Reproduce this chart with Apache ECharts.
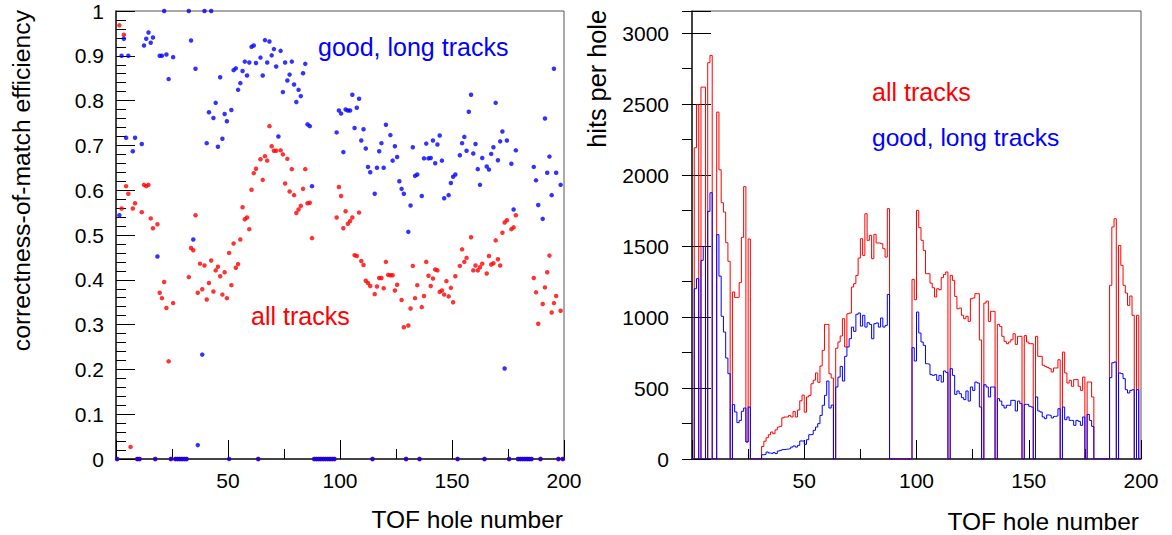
<!DOCTYPE html>
<html>
<head>
<meta charset="utf-8">
<script src="https://cdn.jsdelivr.net/npm/echarts@6/dist/echarts.min.js"></script>
<style>
html,body{margin:0;padding:0;background:#fff;}
#chart{width:1172px;height:535px;}
</style>
</head>
<body>
<div id="chart"></div>
<script>
// Efficiency per TOF hole (index 0..199 -> hole bin [i, i+1]); null = no point
var effAll = [
0,0.968,0.559,0.947,0.609,0.592,0.027,0.559,0.571,0,
0,0.551,0.612,0.609,0.612,0.537,0.515,0,0.524,0.371,
0.359,0.395,0.337,0.218,0,0.348,0,0,0,0,
0,0,0.406,0.471,0.466,0.544,0.371,0.436,0.379,0.432,
0.356,0.393,0.443,0.374,0.421,0.429,0.408,0.367,0.417,0.359,
0.46,0.388,0.481,0.427,0.435,0.49,0.562,0.535,0.539,0.513,
0.601,0.638,0.648,0,0.669,0.623,0.676,0.666,0.743,0.698,
0.688,0.688,null,0.689,0.68,0.615,0.67,0.597,0.647,0.589,
0.549,0.557,0.565,0.603,0.647,0.571,0.572,0.493,0,0,
0,0,0,0,0,0,0,0,0.539,0.607,
0.587,0.515,0.553,0.525,0.531,0.539,0.455,0.453,0.55,0.442,
0.433,0.398,0.393,0.386,0,0.368,0.385,0.404,0.404,0.381,
0.44,0.411,0.41,0.41,0.376,0.389,null,0.355,0.294,0,
0.298,0.336,0.431,0.359,0.388,0,0.339,0.364,0.44,0.409,
0.386,0.403,0.423,0.421,0.373,0.376,0.367,0.397,0.363,0.382,
0.35,0.408,0,0.431,0.468,0.44,0.449,null,0.495,0.421,
0.432,0.421,0.428,0.436,0,0.414,0.453,0.434,0.437,0.488,
0.446,0.432,0.505,0.528,0.533,0,0.513,0.517,0.544,0,
0,0,0,0,0,0,0.404,0.372,0.302,0,
0.346,0.383,0.417,0.454,0.327,0.348,0.364,0,0.331,0
];
var effGood = [
0,0.544,0.90,0.938,0.717,0.90,null,0.687,0.717,0,
0,0.703,0.923,0.938,0.952,0.929,0.941,0,0.452,0.90,
0.90,1.0,0.903,0.848,0,0.897,0,0,0,0,
0,0,1.0,0.934,0.49,0.871,0.031,null,0.233,1.0,
0.705,0.774,1.0,0.761,0.795,0.697,0.852,0.715,0.770,0.754,
0,0.779,0.868,0.872,0.824,0.839,0.866,0.887,0.856,0.885,
0.92,0.923,0.884,0,0.896,0.856,0.935,0.885,0.932,0.901,
0.915,0.876,0.72,0.911,0.819,0.885,0.845,0.858,0.887,0.836,
0.797,0.824,0.81,0.861,0.882,0.747,0.743,0.609,0,0,
0,0,0,0,0,0,0,0,0.729,0.778,
0.771,0.685,0.78,0.778,0.778,0.813,0.739,0.784,0.804,0.711,
0.736,0.693,0.652,0.64,0,0.592,0.65,0.687,0.705,0.65,
0.746,null,0.723,0.666,0.698,0.674,0.62,0.603,0.592,0,
0.507,0.566,0.696,0.632,0.635,0,0.587,0.671,0.704,0.671,
0.672,0.711,0.66,0.702,0.722,0.666,0.582,null,0.589,0.616,
0.63,0.635,0,0.678,0.705,0.719,0.688,0.775,0.813,0.682,
0.703,0.647,0.612,0.672,0,0.653,0.646,0.681,0.696,0.795,
0.667,0.709,0.731,0.202,0.711,0,0.659,0.557,0.689,0,
0,0,0,0,0,0,0.652,0.622,0.567,0,
0.536,0.76,0.639,0.675,0.589,0.871,0.639,0,0.612,0
];
// Hits per hole histograms (bin i covers [i, i+1])
var hitsAll = [
0,2192,2495,0,2619,2619,0,2791,2842,0,
0,2443,2037,1805,1739,1523,1392,0,1176,1138,
1138,1242,1561,1918,120,1549,0,0,0,0,
0,88,125,150,171,190,178,205,225,230,
290,296,296,307,296,335,296,345,410,450,
330,437,448,530,555,606,540,655,765,948,
948,600,570,0,780,824,866,988,789,1023,
1028,1211,1235,1293,1415,1551,1434,1727,1540,1575,
1411,1582,1521,1521,1516,1481,1422,1763,0,0,
0,0,0,0,0,0,0,0,1265,1122,
1751,1629,1540,1469,1305,1305,1239,1206,1141,1199,
1192,1277,1300,1317,0,1293,1258,1145,1058,1063,
1012,988,1005,969,1129,1134,1164,1164,838,0,
1098,1112,969,1040,1040,0,948,934,864,828,
812,824,840,882,807,864,864,0,869,824,
812,812,0,864,723,723,660,652,645,636,
613,641,641,699,0,753,606,535,554,512,
559,559,512,483,577,0,542,542,437,0,
0,0,0,0,0,0,1223,1634,1692,0,
1504,1364,1223,1169,1082,1148,1012,0,1012,0
];
var hitsGood = [
0,1199,1270,0,1399,1497,0,1744,1875,0,
0,1580,1288,1005,894,711,601,0,383,331,
256,272,336,359,120,366,0,0,0,0,
0,30,33,49,42,38,45,38,56,61,
66,68,70,73,84,92,84,96,127,127,
103,136,171,174,202,225,249,307,378,448,
549,359,380,0,507,577,652,549,723,789,
847,929,899,1019,1028,936,1012,929,960,948,
847,953,958,929,993,929,941,1159,0,0,
0,0,0,0,0,0,0,0,784,690,
1035,887,824,800,671,667,594,589,594,554,
589,542,620,610,0,636,589,455,479,460,
432,418,479,408,507,483,542,535,366,0,
523,507,437,507,507,0,425,408,378,359,
378,378,413,413,338,408,390,0,385,385,
371,366,0,437,338,331,296,284,310,307,
289,300,303,354,0,366,277,296,272,272,
237,272,265,237,296,0,314,272,230,0,
0,0,0,0,0,0,573,678,683,0,
606,601,566,488,465,483,488,0,488,0
];
var xTickLabels = ['50','100','150','200'];
var effTickLabels = ['0','0.1','0.2','0.3','0.4','0.5','0.6','0.7','0.8','0.9','1'];
var hitsTickLabels = ['0','500','1000','1500','2000','2500','3000'];

var RED = '#ff0000', BLUE = '#0000ff';
var FONT = 'Liberation Sans, Arial, Helvetica, sans-serif';

function scatterData(arr){
  var out = [];
  arr.forEach(function(v, i){ if (v !== null) out.push([i + 0.5, v]); });
  return out;
}
function histData(arr){
  var out = arr.map(function(v, i){ return [i, v]; });
  out.push([arr.length, arr[arr.length - 1]]);
  return out;
}

function xAxisCfg(gi){
  return {
    type:'value', gridIndex: gi, min:0, max:200, interval:50,
    axisLine:{show:true, onZero:false, lineStyle:{color:'#222', width:1.5}},
    axisTick:{show:true, inside:true, length:19, lineStyle:{color:'#000', width:1}},
    minorTick:{show:true, splitNumber:2, length:10, lineStyle:{color:'#000', width:1}},
    splitLine:{show:false}, minorSplitLine:{show:false},
    axisLabel:{
      margin:11, fontSize:21, color:'#000', fontFamily:FONT,
      formatter:function(v){ var s = String(v); return xTickLabels.indexOf(s) >= 0 ? s : ''; }
    }
  };
}

var option = {
  animation:false,
  backgroundColor:'#fff',
  grid:[
    {left:116, top:11, width:448, height:448, show:true, borderColor:'#555', borderWidth:1, containLabel:false},
    {left:692, top:11, width:449, height:448, show:true, borderColor:'#555', borderWidth:1, containLabel:false}
  ],
  xAxis:[ xAxisCfg(0), xAxisCfg(1) ],
  yAxis:[
    {
      type:'value', gridIndex:0, min:0, max:1, interval:0.1,
      axisLine:{show:true, onZero:false, lineStyle:{color:'#222', width:1.5}},
      axisTick:{show:true, inside:true, length:19, lineStyle:{color:'#000', width:1}},
      minorTick:{show:true, splitNumber:5, length:10, lineStyle:{color:'#000', width:1}},
      splitLine:{show:false}, minorSplitLine:{show:false},
      axisLabel:{
        margin:12, fontSize:21, color:'#000', fontFamily:FONT,
        formatter:function(v){ var s = String(Math.round(v*10)/10); return effTickLabels.indexOf(s) >= 0 ? s : ''; }
      }
    },
    {
      type:'value', gridIndex:1, min:0, max:3155, interval:500,
      axisLine:{show:true, onZero:false, lineStyle:{color:'#222', width:1.5}},
      axisTick:{show:true, inside:true, length:19, lineStyle:{color:'#000', width:1}},
      splitLine:{show:false},
      axisLabel:{
        margin:23, fontSize:21, color:'#000', fontFamily:FONT,
        formatter:function(v){ var s = String(v); return hitsTickLabels.indexOf(s) >= 0 ? s : ''; }
      }
    },
    {
      type:'value', gridIndex:1, min:0, max:3155, interval:250,
      axisLine:{show:false},
      axisTick:{show:true, inside:true, length:10, lineStyle:{color:'#000', width:1}},
      splitLine:{show:false},
      axisLabel:{show:false}
    }
  ],
  series:[
    {type:'scatter', xAxisIndex:0, yAxisIndex:0, data:scatterData(effAll), symbol:'circle', symbolSize:4.5,
     itemStyle:{color:RED}, silent:true},
    {type:'scatter', xAxisIndex:0, yAxisIndex:0, data:scatterData(effGood), symbol:'circle', symbolSize:4.5,
     itemStyle:{color:BLUE}, silent:true},
    {type:'line', xAxisIndex:1, yAxisIndex:1, data:histData(hitsAll), step:'end', showSymbol:false, symbol:'none',
     lineStyle:{color:RED, width:1}, silent:true},
    {type:'line', xAxisIndex:1, yAxisIndex:1, data:histData(hitsGood), step:'end', showSymbol:false, symbol:'none',
     lineStyle:{color:BLUE, width:1}, silent:true}
  ],
  graphic:[
    {type:'text', x:21, y:10, rotation:Math.PI/2,
     style:{text:'correctness-of-match efficiency', fill:'#000', font:'24.7px '+FONT, align:'right', verticalAlign:'middle', textAlign:'right', textVerticalAlign:'middle'}},
    {type:'text', x:597, y:10, rotation:Math.PI/2,
     style:{text:'hits per hole', fill:'#000', font:'25.3px '+FONT, align:'right', verticalAlign:'middle', textAlign:'right', textVerticalAlign:'middle'}},
    {type:'text', x:563, y:519,
     style:{text:'TOF hole number', fill:'#000', font:'24.5px '+FONT, align:'right', verticalAlign:'middle', textAlign:'right', textVerticalAlign:'middle'}},
    {type:'text', x:1139, y:521,
     style:{text:'TOF hole number', fill:'#000', font:'24.5px '+FONT, align:'right', verticalAlign:'middle', textAlign:'right', textVerticalAlign:'middle'}},
    {type:'text', x:318, y:47,
     style:{text:'good, long tracks', fill:BLUE, font:'25px '+FONT, align:'left', verticalAlign:'middle', textAlign:'left', textVerticalAlign:'middle'}},
    {type:'text', x:251, y:316,
     style:{text:'all tracks', fill:RED, font:'25px '+FONT, align:'left', verticalAlign:'middle', textAlign:'left', textVerticalAlign:'middle'}},
    {type:'text', x:872, y:92,
     style:{text:'all tracks', fill:RED, font:'25px '+FONT, align:'left', verticalAlign:'middle', textAlign:'left', textVerticalAlign:'middle'}},
    {type:'text', x:872, y:137,
     style:{text:'good, long tracks', fill:BLUE, font:'24.6px '+FONT, align:'left', verticalAlign:'middle', textAlign:'left', textVerticalAlign:'middle'}}
  ]
};

var chart = echarts.init(document.getElementById('chart'), null, {renderer:'svg', width:1172, height:535});
chart.setOption(option);
</script>
</body>
</html>
